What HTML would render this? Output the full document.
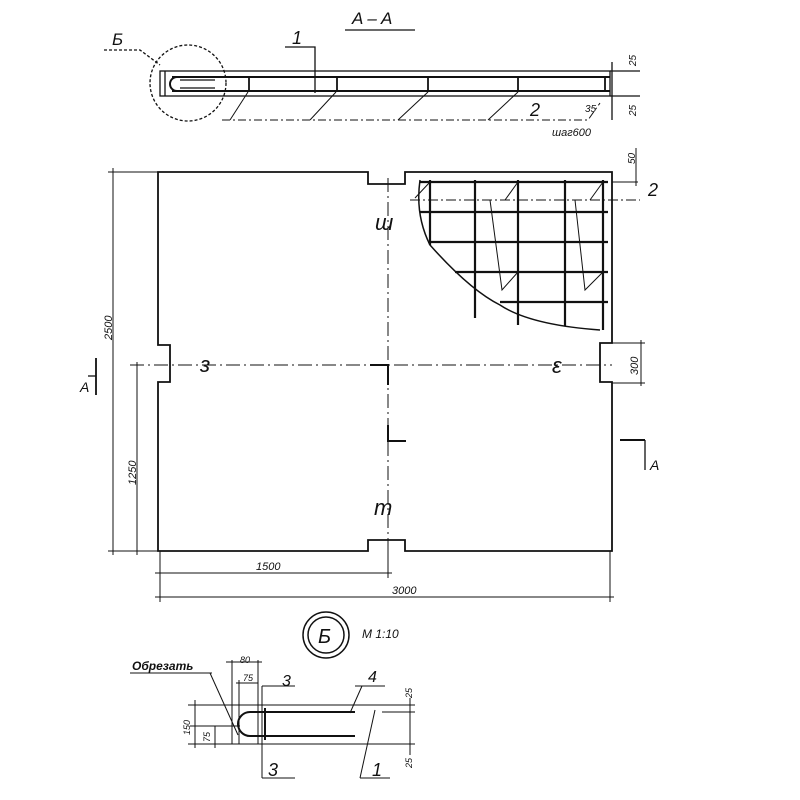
<!DOCTYPE html>
<html><head><meta charset="utf-8"><style>
body{margin:0;background:#fff}
svg{display:block}
text{font-family:"Liberation Sans",sans-serif;font-style:italic;fill:#111}
</style></head><body>
<svg width="800" height="800" viewBox="0 0 800 800" xmlns="http://www.w3.org/2000/svg" fill="none" stroke="#111" stroke-width="1.3">
<!-- Section A-A -->
<text x="352" y="24" font-size="17" stroke="none">A – A</text>
<line x1="345" y1="30" x2="415" y2="30"/>
<text x="292" y="44" font-size="18" stroke="none">1</text>
<polyline points="285,47 315,47 315,93"/>
<text x="112" y="45" font-size="17" stroke="none">Б</text>
<polyline points="104,50 140,50 160,65" stroke-dasharray="3,2"/>
<circle cx="188" cy="83" r="38" stroke-dasharray="3,2"/>
<rect x="160" y="71" width="450" height="25"/>
<line x1="165" y1="71" x2="165" y2="96"/>
<line x1="172" y1="77" x2="610" y2="77" stroke-width="2"/>
<line x1="172" y1="91" x2="610" y2="91" stroke-width="2"/>
<path d="M185,77 h-8 a7,7 0 0 0 0,14 h8" stroke-width="2"/>
<line x1="180" y1="80" x2="215" y2="80"/><line x1="180" y1="88" x2="215" y2="88"/>
<g stroke-width="1.8"><line x1="249" y1="77" x2="249" y2="91"/><line x1="337" y1="77" x2="337" y2="91"/><line x1="428" y1="77" x2="428" y2="91"/><line x1="518" y1="77" x2="518" y2="91"/><line x1="605" y1="77" x2="605" y2="91"/></g>
<polyline points="222,120 588,120 600,103" stroke-dasharray="8,3,2,3" stroke-width="1"/>
<g stroke-width="1"><line x1="230" y1="120" x2="248" y2="92"/><line x1="310" y1="120" x2="336" y2="92"/><line x1="398" y1="120" x2="428" y2="92"/><line x1="488" y1="120" x2="518" y2="92"/></g>
<text x="530" y="116" font-size="18" stroke="none">2</text>
<text x="585" y="112" font-size="10" stroke="none">35</text>
<text x="552" y="136" font-size="11" stroke="none">шаг600</text>
<line x1="612" y1="62" x2="612" y2="120"/>
<line x1="610" y1="71" x2="640" y2="71"/><line x1="610" y1="96" x2="640" y2="96"/>
<text x="636" y="66" font-size="10" stroke="none" transform="rotate(-90 636 66)">25</text>
<text x="636" y="116" font-size="10" stroke="none" transform="rotate(-90 636 116)">25</text>
<!-- Plan outline -->
<path d="M158,172 H368 V184 H405 V172 H612 V343 H600 V382 H612 V551 H405 V540 H368 V551 H158 V382 H170 V345 H158 Z" stroke-width="1.8"/>
<!-- centre lines -->
<line x1="388" y1="178" x2="388" y2="578" stroke-dasharray="14,4,2,4" stroke-width="1"/>
<line x1="130" y1="365" x2="612" y2="365" stroke-dasharray="14,4,2,4" stroke-width="1"/>
<polyline points="370,365 388,365 388,385" stroke-width="2"/>
<polyline points="388,425 388,441 406,441" stroke-width="2"/>
<text x="375" y="230" font-size="22" stroke="none" font-style="normal">ш</text>
<text x="200" y="372" font-size="22" stroke="none" font-style="normal">з</text>
<text x="552" y="373" font-size="22" stroke="none" font-style="normal">ε</text>
<text x="374" y="515" font-size="22" stroke="none" font-style="normal">m</text>
<!-- mesh -->
<g stroke-width="2.2">
<line x1="430" y1="180" x2="430" y2="245"/><line x1="475" y1="180" x2="475" y2="318"/><line x1="518" y1="180" x2="518" y2="325"/><line x1="565" y1="180" x2="565" y2="326"/><line x1="603" y1="180" x2="603" y2="330"/>
<line x1="420" y1="182" x2="608" y2="182"/><line x1="420" y1="212" x2="608" y2="212"/><line x1="428" y1="242" x2="608" y2="242"/><line x1="455" y1="272" x2="608" y2="272"/><line x1="500" y1="302" x2="608" y2="302"/>
</g>
<path d="M420,180 Q415,215 430,245 Q470,290 500,305 Q530,325 600,330" stroke-width="1.5"/>
<g stroke-width="1">
<line x1="410" y1="200" x2="640" y2="200" stroke-dasharray="10,3,2,3"/>
<line x1="415" y1="198" x2="430" y2="182"/><line x1="505" y1="200" x2="518" y2="182"/><line x1="590" y1="200" x2="603" y2="182"/>
<polyline points="490,200 502,290 518,272"/><polyline points="575,200 585,290 603,272"/>
<line x1="612" y1="182" x2="638" y2="182"/><line x1="636" y1="148" x2="636" y2="186"/>
<line x1="612" y1="343" x2="645" y2="343"/><line x1="612" y1="383" x2="645" y2="383"/><line x1="641" y1="340" x2="641" y2="386"/>
</g>
<text x="626" y="165" font-size="10" stroke="none" transform="rotate(-90 630 160)">50</text>
<text x="648" y="196" font-size="18" stroke="none">2</text>
<text x="638" y="375" font-size="11" stroke="none" transform="rotate(-90 638 375)">300</text>
<!-- left dims -->
<g stroke-width="1">
<line x1="108" y1="172" x2="158" y2="172"/><line x1="108" y1="551" x2="158" y2="551"/>
<line x1="113" y1="168" x2="113" y2="555"/><line x1="137" y1="362" x2="137" y2="555"/>
<line x1="160" y1="551" x2="160" y2="602"/><line x1="388" y1="551" x2="388" y2="578"/><line x1="610" y1="551" x2="610" y2="602"/>
<line x1="155" y1="573" x2="392" y2="573"/><line x1="155" y1="597" x2="614" y2="597"/>
</g>
<text x="112" y="340" font-size="11" stroke="none" transform="rotate(-90 112 340)">2500</text>
<text x="136" y="485" font-size="11" stroke="none" transform="rotate(-90 136 485)">1250</text>
<text x="256" y="570" font-size="11" stroke="none">1500</text>
<text x="392" y="594" font-size="11" stroke="none">3000</text>
<!-- section marks -->
<line x1="96" y1="358" x2="96" y2="395" stroke-width="1.8"/><line x1="88" y1="376" x2="96" y2="376"/>
<text x="80" y="392" font-size="14" stroke="none">A</text>
<line x1="620" y1="440" x2="645" y2="440" stroke-width="2"/><line x1="645" y1="440" x2="645" y2="470"/>
<text x="650" y="470" font-size="14" stroke="none">A</text>
<!-- Detail B -->
<circle cx="326" cy="635" r="23" stroke-width="1.5"/><circle cx="326" cy="635" r="18" stroke-width="1.5"/>
<text x="318" y="643" font-size="20" stroke="none">Б</text>
<text x="362" y="638" font-size="12" stroke="none">М 1:10</text>
<text x="132" y="670" font-size="12" stroke="none" font-weight="bold">Обрезать</text>
<line x1="130" y1="673" x2="212" y2="673" stroke-width="1"/>
<g stroke-width="1">
<line x1="188" y1="705" x2="415" y2="705"/><line x1="188" y1="744" x2="415" y2="744"/>
<line x1="195" y1="700" x2="195" y2="748"/><line x1="215" y1="726" x2="215" y2="748"/>
<line x1="232" y1="660" x2="232" y2="744"/><line x1="239" y1="680" x2="239" y2="744"/><line x1="258" y1="660" x2="258" y2="744"/>
<line x1="226" y1="662" x2="262" y2="662"/><line x1="236" y1="683" x2="258" y2="683"/>
<line x1="210" y1="673" x2="238" y2="735"/>
<line x1="262" y1="686" x2="262" y2="778"/><line x1="262" y1="686" x2="295" y2="686"/><line x1="262" y1="778" x2="295" y2="778"/>
<line x1="355" y1="686" x2="385" y2="686"/><line x1="362" y1="686" x2="350" y2="713"/>
<line x1="375" y1="710" x2="360" y2="778"/><line x1="360" y1="778" x2="390" y2="778"/>
<line x1="410" y1="698" x2="410" y2="755"/><line x1="382" y1="712" x2="415" y2="712"/>
<line x1="190" y1="726" x2="240" y2="726"/>
</g>
<path d="M265,712 h-15 a12,12 0 0 0 0,24 h15" stroke-width="2"/>
<line x1="265" y1="712" x2="355" y2="712" stroke-width="2"/><line x1="265" y1="736" x2="355" y2="736" stroke-width="2"/>
<line x1="265" y1="708" x2="265" y2="740" stroke-width="2"/>
<text x="240" y="663" font-size="9" stroke="none">80</text>
<text x="243" y="681" font-size="9" stroke="none">75</text>
<text x="282" y="686" font-size="16" stroke="none">3</text>
<text x="268" y="776" font-size="18" stroke="none">3</text>
<text x="368" y="682" font-size="16" stroke="none">4</text>
<text x="372" y="776" font-size="18" stroke="none">1</text>
<text x="190" y="735" font-size="9" stroke="none" transform="rotate(-90 190 735)">150</text>
<text x="210" y="742" font-size="9" stroke="none" transform="rotate(-90 210 742)">75</text>
<text x="412" y="698" font-size="9" stroke="none" transform="rotate(-90 412 698)">25</text>
<text x="412" y="768" font-size="9" stroke="none" transform="rotate(-90 412 768)">25</text>
</svg>
</body></html>
